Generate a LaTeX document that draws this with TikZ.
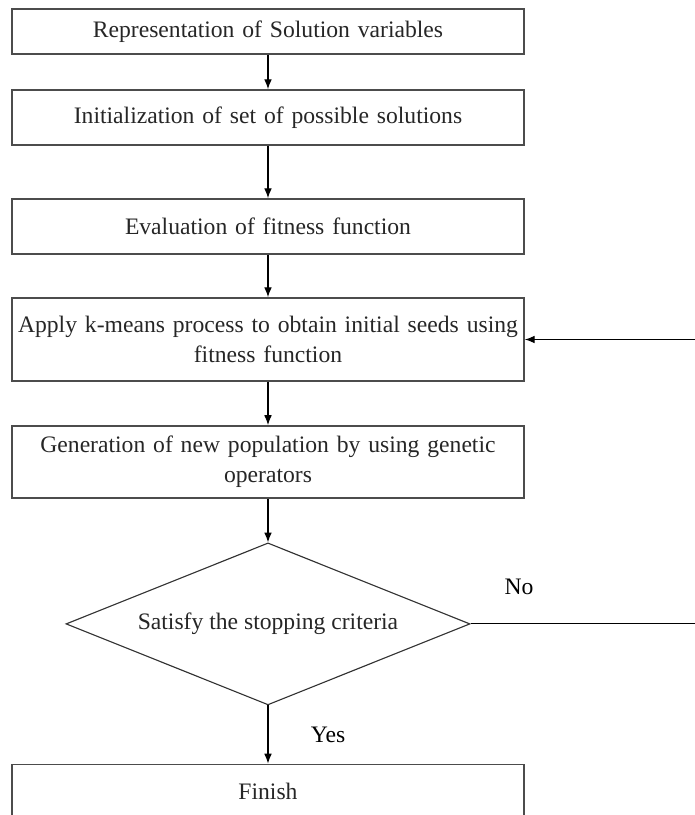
\documentclass[tikz,border=0pt]{standalone}
\usepackage{fontspec}
\setmainfont{Liberation Serif}
\usetikzlibrary{shapes,arrows.meta}
\tikzstyle{block} = [rectangle, draw=black!70, line width=1.2pt,
	text width=12.8cm, inner xsep=0pt, text centered, text=black!85]
\tikzstyle{decision} = [diamond, aspect=2.5, draw=black!80, line width=0.8pt,
	minimum width=10.1cm, minimum height=4.05cm, inner sep=0pt, text=black!85]
\tikzstyle{line} = [draw, line width=0.8pt, -{Latex[length=7pt, width=5.5pt]}]

\begin{document}
\begin{tikzpicture}[node distance = 2cm, auto, font=\fontsize{16.8}{21.3}\selectfont]
	\path [use as bounding box, clip] (-6.7,0.7875) rectangle (10.675,-19.5875);
	% Place nodes
	\node [block, minimum height=1.125cm] (repr) {Representation of Solution variables};
	\node [block, below of=repr, node distance=2.15cm, minimum height=1.375cm] (init) {Initialization of set of possible solutions};
	\node [block, below of=init, node distance=2.725cm, minimum height=1.375cm] (fitness) {Evaluation of fitness function};
	\node [block, below of=fitness, node distance=2.825cm, minimum height=2.075cm] (kmeans) {Apply k-means process to obtain initial seeds using\\ fitness function};
	\node [block, below of=kmeans, node distance=3.06cm, minimum height=1.8cm] (genetic) {Generation of new population by using genetic\\ operators};
	\node [decision, below of=genetic, node distance=4.05cm] (check) {Satisfy the stopping criteria};
	\node [block, below of=check, node distance=4.2cm, minimum height=1.375cm] (finish) {Finish};
	\coordinate [right of=check, node distance=10.925cm] (loopend);
	% Draw edges
	\path [line] (repr) -- (init);
	\path [line] (init) -- (fitness);
	\path [line] (fitness) -- (kmeans);
	\path [line] (kmeans) -- (genetic);
	\path [line] (genetic) -- (check);
	\path [line] (check) -- node [right=0.94cm] {Yes} (finish);
	\path [line] (check) -- node [pos=0, anchor=south west, xshift=0.72cm, yshift=0.6cm] {No} (loopend) |- (kmeans);
\end{tikzpicture}
\end{document}
